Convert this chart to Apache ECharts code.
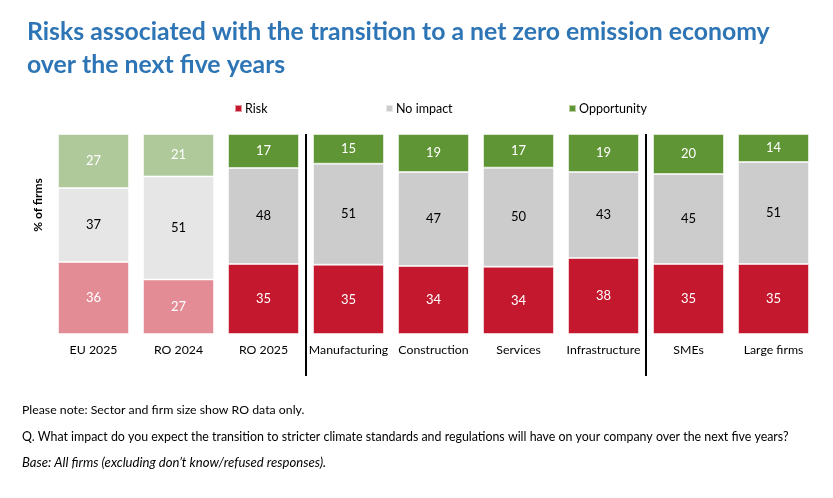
<!DOCTYPE html>
<html>
<head>
<meta charset="utf-8">
<script src="https://cdn.jsdelivr.net/npm/echarts@6/dist/echarts.min.js"></script>
<style>
html,body{margin:0;padding:0;background:#fff;}
#chart{width:833px;height:498px;}
</style>
</head>
<body>
<div id="chart"></div>
<script>
const categories = ['EU 2025','RO 2024','RO 2025','Manufacturing','Construction','Services','Infrastructure','SMEs','Large firms'];
const risk        = [36, 27, 35, 35, 34, 34, 38, 35, 35];
const noImpact    = [37, 51, 48, 51, 47, 50, 43, 45, 51];
const opportunity = [27, 21, 17, 15, 19, 17, 19, 20, 14];
const seriesNames = ['Risk', 'No impact', 'Opportunity'];
const fadedCount = 2; // first two categories shown in lighter shades
const separatorsBefore = [3, 7];

const strong = ['#C4182E', '#CCCCCC', '#5F9534'];
const faded  = ['#E38C96', '#E6E6E6', '#AFC99A'];
const labelColors = ['#ffffff', '#000000', '#ffffff'];
const legendLefts = [229, 380, 563];
const FONT = 'Lato';

const raw = [risk, noImpact, opportunity];
const totals = categories.map((c, i) => risk[i] + noImpact[i] + opportunity[i]);

const series = raw.map((arr, s) => ({
  name: seriesNames[s],
  type: 'bar',
  stack: 'total',
  xAxisIndex: 0,
  yAxisIndex: 0,
  barWidth: '83.5%',
  itemStyle: { color: strong[s], borderColor: 'rgba(255,255,255,0.55)', borderWidth: 1 },
  label: {
    show: true,
    position: 'inside',
    fontFamily: FONT,
    fontSize: 13,
    color: labelColors[s],
    formatter: p => p.data.raw
  },
  data: arr.map((v, i) => ({
    value: v / totals[i] * 100,
    raw: v,
    itemStyle: { color: i < fadedCount ? faded[s] : strong[s] }
  }))
}));

// separators in black; the trailing boundary line ECharts adds is made transparent
const sepColors = separatorsBefore.map(() => '#000').concat(['rgba(0,0,0,0)']);

const chart = echarts.init(document.getElementById('chart'));
chart.setOption({
  animation: false,
  textStyle: { fontFamily: FONT },
  title: {
    text: 'Risks associated with the transition to a net zero emission economy\nover the next five years',
    left: 22, top: 11,
    textStyle: { fontFamily: FONT, fontSize: 24.8, fontWeight: 'bold', color: '#2E75B6', lineHeight: 33 }
  },
  legend: seriesNames.map((n, s) => ({
    data: [n],
    top: 97, left: legendLefts[s],
    icon: 'rect', itemWidth: 7, itemHeight: 7, itemGap: 4,
    textStyle: { fontFamily: FONT, fontSize: 12.5, color: '#000', padding: [0, 0, 0, -2] }
  })),
  grid: [
    { left: 51, right: 17, top: 134, bottom: 164 },
    { left: 51, right: 17, top: 134, bottom: 122 }
  ],
  xAxis: [
    {
      type: 'category', gridIndex: 0, data: categories,
      axisLine: { show: false }, axisTick: { show: false },
      axisLabel: { fontFamily: FONT, fontSize: 12.3, color: '#000', margin: 10, interval: 0 }
    },
    {
      type: 'category', gridIndex: 1, data: categories,
      axisLine: { show: false }, axisTick: { show: false }, axisLabel: { show: false },
      splitLine: {
        show: true,
        interval: (idx) => separatorsBefore.indexOf(idx) >= 0,
        lineStyle: { color: sepColors, width: 2 }
      }
    }
  ],
  yAxis: [
    { type: 'value', gridIndex: 0, min: 0, max: 100, show: false },
    { type: 'value', gridIndex: 1, min: 0, max: 1, show: false }
  ],
  graphic: [
    { type: 'text', x: 38, y: 205, rotation: Math.PI / 2,
      style: { text: '% of firms', fontFamily: FONT, fontSize: 12, fontWeight: 'bold', fill: '#000', align: 'center', verticalAlign: 'middle' } },
    { type: 'text', x: 22, y: 410,
      style: { text: 'Please note: Sector and firm size show RO data only.', fontFamily: FONT, fontSize: 12.3, fill: '#000', verticalAlign: 'middle' } },
    { type: 'text', x: 22, y: 437,
      style: { text: 'Q. What impact do you expect the transition to stricter climate standards and regulations will have on your company over the next five years?', fontFamily: FONT, fontSize: 12.4, fill: '#000', verticalAlign: 'middle' } },
    { type: 'text', x: 22, y: 463,
      style: { text: 'Base: All firms (excluding don\u2019t know/refused responses).', fontFamily: FONT, fontSize: 13.1, fontStyle: 'italic', fill: '#000', verticalAlign: 'middle' } }
  ],
  series: series
});
</script>
</body>
</html>
